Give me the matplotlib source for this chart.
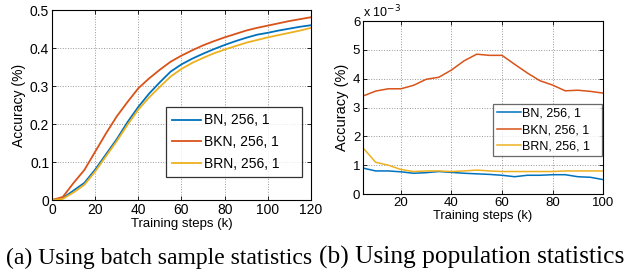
import matplotlib.pyplot as plt

# (a) batch sample statistics
steps_a = [0, 5, 10, 15, 20, 25, 30, 35, 40, 45, 50, 55, 60, 65, 70, 75, 80, 85, 90, 95, 100, 105, 110, 115, 120]
bn_a = [0, 0.005, 0.025, 0.045, 0.08, 0.12, 0.16, 0.205, 0.245, 0.28, 0.31, 0.338, 0.357, 0.372, 0.385,
        0.397, 0.408, 0.418, 0.427, 0.435, 0.44, 0.446, 0.451, 0.456, 0.46]
bkn_a = [0, 0.008, 0.045, 0.079, 0.127, 0.175, 0.22, 0.258, 0.294, 0.32, 0.343, 0.364, 0.38, 0.394, 0.407,
         0.418, 0.428, 0.437, 0.446, 0.453, 0.459, 0.465, 0.471, 0.476, 0.481]
brn_a = [0, 0.003, 0.02, 0.04, 0.075, 0.115, 0.155, 0.198, 0.238, 0.27, 0.298, 0.325, 0.345, 0.361, 0.374,
         0.386, 0.396, 0.405, 0.414, 0.421, 0.428, 0.434, 0.44, 0.446, 0.453]

# (b) population statistics, values in units of 1e-3
steps_b = [5, 10, 15, 20, 25, 30, 35, 40, 45, 50, 55, 60, 65, 70, 75, 80, 85, 90, 95, 100]
bn_b = [0.9, 0.8, 0.8, 0.77, 0.72, 0.74, 0.78, 0.75, 0.72, 0.7, 0.68, 0.65, 0.6, 0.65, 0.65, 0.67, 0.67,
        0.6, 0.58, 0.5]
bkn_b = [3.4, 3.57, 3.65, 3.65, 3.77, 3.98, 4.05, 4.3, 4.62, 4.85, 4.81, 4.81, 4.5, 4.2, 3.93, 3.78, 3.58,
         3.6, 3.56, 3.5]
brn_b = [1.6, 1.1, 1.0, 0.85, 0.78, 0.8, 0.8, 0.78, 0.8, 0.83, 0.8, 0.78, 0.78, 0.78, 0.78, 0.78, 0.8,
         0.8, 0.8, 0.8]

labels = ["BN, 256, 1", "BKN, 256, 1", "BRN, 256, 1"]
colors = ["#0072BD", "#D95319", "#EDB120"]

plt.rcParams['font.family'] = ['Liberation Sans', 'DejaVu Sans']
plt.rcParams['xtick.direction'] = 'in'
plt.rcParams['ytick.direction'] = 'in'

fig = plt.figure(figsize=(6.27, 2.75), dpi=100)

ax1 = fig.add_axes([0.0829, 0.2727, 0.4131, 0.6909])
for ys, c, lab in zip([bn_a, bkn_a, brn_a], colors, labels):
    ax1.plot(steps_a, ys, color=c, lw=1.3, label=lab)
ax1.set_xlim(0, 120)
ax1.set_ylim(0, 0.5)
ax1.set_xticks([0, 20, 40, 60, 80, 100, 120])
ax1.set_yticks([0, 0.1, 0.2, 0.3, 0.4, 0.5])
ax1.set_yticklabels(["0", "0.1", "0.2", "0.3", "0.4", "0.5"])
ax1.tick_params(labelsize=10, top=True, right=True, length=3, width=0.6, pad=2)
ax1.grid(True, linestyle=':', color='#999999', lw=0.7)
ax1.set_xlabel("Training steps (k)", fontsize=9.5, labelpad=1)
ax1.set_ylabel("Accuracy (%)", fontsize=10, labelpad=3)
leg1 = ax1.legend(loc='center', bbox_to_anchor=(0.44, 0.121, 0.525, 0.368), mode='expand', fontsize=10,
                  frameon=True, fancybox=False, edgecolor='black', handlelength=2.1, borderpad=0.45,
                  labelspacing=0.55, handletextpad=0.2, borderaxespad=0)
leg1.get_frame().set_linewidth(0.9)

ax2 = fig.add_axes([0.579, 0.2945, 0.3828, 0.629])
for ys, c, lab in zip([bn_b, bkn_b, brn_b], colors, labels):
    ax2.plot(steps_b, ys, color=c, lw=1.1, label=lab)
ax2.set_xlim(5, 100)
ax2.set_ylim(0, 6)
ax2.set_xticks([20, 40, 60, 80, 100])
ax2.set_yticks([0, 1, 2, 3, 4, 5, 6])
ax2.tick_params(labelsize=9.5, top=True, right=True, length=3, width=0.6, pad=2)
ax2.grid(True, linestyle=':', color='#999999', lw=0.7)
ax2.set_xlabel("Training steps (k)", fontsize=9.3, labelpad=1)
ax2.set_ylabel("Accuracy (%)", fontsize=10.5, labelpad=3)
ax2.text(0.0, 1.005, "x 10$^{-3}$", transform=ax2.transAxes, fontsize=9, va='bottom', ha='left')
leg2 = ax2.legend(loc='center', bbox_to_anchor=(0.542, 0.22, 0.454, 0.30), mode='expand', fontsize=9,
                  frameon=True, fancybox=False, edgecolor='#444444', handlelength=1.9, borderpad=0.3,
                  labelspacing=0.35, handletextpad=0.1, borderaxespad=0)
leg2.get_frame().set_linewidth(0.9)

fig.text(159 / 627, 0.04, "(a) Using batch sample statistics", family='Liberation Serif', fontsize=17,
         ha='center', va='baseline')
fig.text(472 / 627, 0.04, "(b) Using population statistics", family='Liberation Serif', fontsize=18.3,
         ha='center', va='baseline')

fig.savefig("out.png", dpi=100)
